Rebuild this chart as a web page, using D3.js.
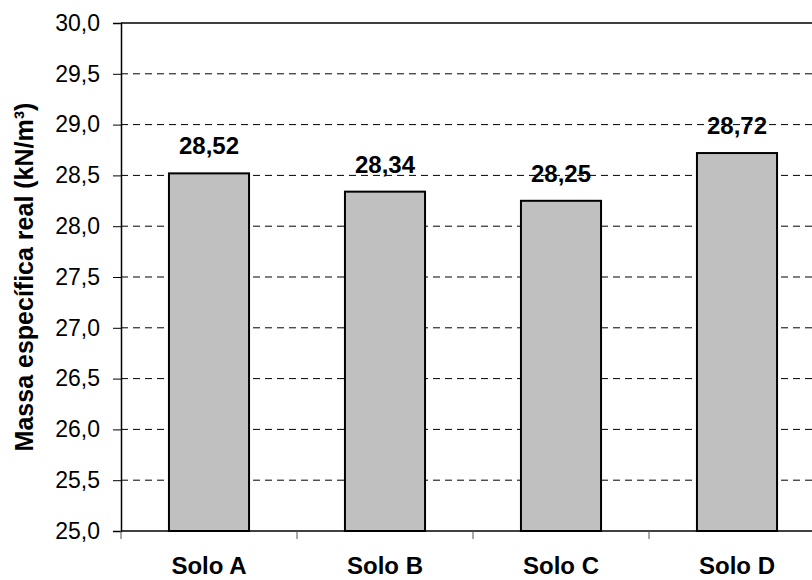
<!DOCTYPE html>
<html>
<head>
<meta charset="utf-8">
<script src="https://cdn.jsdelivr.net/npm/d3@7"></script>
<style>
  html, body { margin: 0; padding: 0; background: #fff; }
  svg { display: block; font-family: "Liberation Sans", Arial, sans-serif; }
</style>
</head>
<body>
<svg id="chart" width="812" height="580"></svg>
<script>
// Soil samples and their real specific mass (kN/m³)
const categories = ["Solo A", "Solo B", "Solo C", "Solo D"];
const values = [28.52, 28.34, 28.25, 28.72];
const yTicks = [25.0, 25.5, 26.0, 26.5, 27.0, 27.5, 28.0, 28.5, 29.0, 29.5, 30.0];
const yTitle = "Massa específica real (kN/m³)";

const fmt = (v, d) => v.toFixed(d).replace(".", ",");

const svg = d3.select("#chart");
const margin = { left: 121, top: 23, right: 825, bottom: 531 };

const x = d3.scaleBand()
  .domain(categories)
  .range([margin.left, margin.right])
  .paddingInner(0.545)
  .paddingOuter(0.2725);

const y = d3.scaleLinear().domain([25, 30]).range([margin.bottom, margin.top]);

// dashed gridlines
svg.append("g")
  .selectAll("line")
  .data(yTicks.filter(t => t > 25 && t < 30))
  .join("line")
  .attr("x1", margin.left).attr("x2", margin.right)
  .attr("y1", d => y(d)).attr("y2", d => y(d))
  .attr("stroke", "#000").attr("stroke-width", 1)
  .attr("stroke-dasharray", "7,5");

// top border of the plot area
svg.append("line")
  .attr("x1", margin.left).attr("x2", margin.right)
  .attr("y1", y(30)).attr("y2", y(30))
  .attr("stroke", "#000").attr("stroke-width", 1.5);

// bars
svg.append("g")
  .selectAll("rect")
  .data(values)
  .join("rect")
  .attr("x", (d, i) => x(categories[i]))
  .attr("width", x.bandwidth())
  .attr("y", d => y(d))
  .attr("height", d => y(25) - y(d))
  .attr("fill", "#c0c0c0")
  .attr("stroke", "#000")
  .attr("stroke-width", 2);

// value labels
svg.append("g")
  .selectAll("text")
  .data(values)
  .join("text")
  .attr("x", (d, i) => x(categories[i]) + x.bandwidth() / 2)
  .attr("y", d => y(d) - 19)
  .attr("text-anchor", "middle")
  .attr("font-size", 24)
  .attr("font-weight", "bold")
  .text(d => fmt(d, 2));

// y axis
const yAxis = svg.append("g")
  .attr("transform", `translate(${margin.left},0)`)
  .call(d3.axisLeft(y).tickValues(yTicks).tickSize(8).tickPadding(13)
    .tickFormat(d => fmt(d, 1)));
yAxis.select(".domain").attr("stroke", "#000").attr("stroke-width", 1.5);
yAxis.selectAll(".tick line").attr("stroke", "#000").attr("stroke-width", 1);
yAxis.selectAll(".tick text")
  .attr("font-size", 23)
  .attr("font-family", "Liberation Sans, Arial, sans-serif")
  .attr("fill", "#000");

// x axis with ticks at category boundaries
const boundaries = [margin.left, ...categories.slice(1).map(c => x(c) - x.step() * x.paddingInner() / 2)];
const xAxis = svg.append("g");
xAxis.append("line")
  .attr("x1", margin.left).attr("x2", margin.right)
  .attr("y1", margin.bottom).attr("y2", margin.bottom)
  .attr("stroke", "#000").attr("stroke-width", 1.5);
xAxis.selectAll("line.tick")
  .data(boundaries)
  .join("line")
  .attr("class", "tick")
  .attr("x1", d => d).attr("x2", d => d)
  .attr("y1", margin.bottom).attr("y2", margin.bottom + 8)
  .attr("stroke", "#555").attr("stroke-width", 1);
xAxis.selectAll("text")
  .data(categories)
  .join("text")
  .attr("x", d => x(d) + x.bandwidth() / 2)
  .attr("y", 574)
  .attr("text-anchor", "middle")
  .attr("font-size", 24)
  .attr("font-weight", "bold")
  .text(d => d);

// y axis title
svg.append("text")
  .attr("transform", `translate(33,277) rotate(-90)`)
  .attr("text-anchor", "middle")
  .attr("font-size", 25)
  .attr("font-weight", "bold")
  .text(yTitle);
</script>
</body>
</html>
